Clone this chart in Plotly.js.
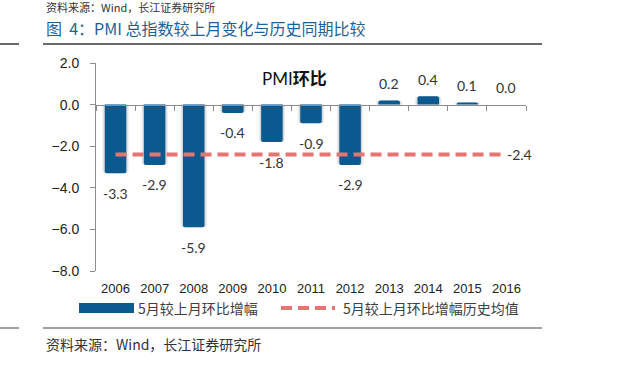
<!DOCTYPE html>
<html>
<head>
<meta charset="utf-8">
<script src="https://cdn.plot.ly/plotly-3.0.1.min.js"></script>
<style>
  html, body { margin: 0; padding: 0; background: #fff; }
  #chart { width: 627px; height: 374px; }
</style>
</head>
<body>
<div id="chart"></div>
<script>
// ---- data ----
const years = ['2006', '2007', '2008', '2009', '2010', '2011', '2012', '2013', '2014', '2015', '2016'];
const momChange = [-3.3, -2.9, -5.9, -0.4, -1.8, -0.9, -2.9, 0.2, 0.4, 0.1, 0.0];
const histMean = [-2.4, -2.4, -2.4, -2.4, -2.4, -2.4, -2.4, -2.4, -2.4, -2.4, -2.4];
const yTickVals = [2, 0, -2, -4, -6, -8];
const seriesNames = ['5月较上月环比增幅', '5月较上月环比增幅历史均值'];
const titleText = '图&nbsp;&nbsp;4：PMI 总指数较上月变化与历史同期比较';
const sourceText = '资料来源：Wind，长江证券研究所';
const innerTitle = 'PMI<b>环比</b>';

// ---- layout geometry (pixels) ----
const W = 627, H = 374;
const L = 96, T = 63, PW = 430, PH = 208;
const px = x => (x - L) / PW;
const py = y => (T + PH - y) / PH;

const barColor = '#0A5A8F';
const lineColor = '#E47573';
const axisColor = '#8C8C8C';
const cjk = '"Noto Sans CJK SC", "Liberation Sans", sans-serif';
const latin = '"Liberation Sans", Arial, sans-serif';
const labelFont = 'Lato, "DejaVu Sans", sans-serif';

const traces = [
  { type: 'bar', x: years, y: momChange, width: 0.68, marker: { color: 'rgba(0,0,0,0.07)', cornerradius: 3 },
    hoverinfo: 'skip', showlegend: false },
  { type: 'bar', x: years, y: momChange, width: 0.61, marker: { color: 'rgba(0,0,0,0.10)', cornerradius: 3 },
    hoverinfo: 'skip', showlegend: false },
  { type: 'bar', x: years, y: momChange, width: 0.55, name: seriesNames[0],
    marker: { color: barColor, cornerradius: 2 }, showlegend: false },
  { type: 'scatter', mode: 'lines', x: years, y: histMean, name: seriesNames[1],
    line: { color: lineColor, width: 4, dash: '11px,6px' }, showlegend: false },
  // carrier for the zero-line category axis
  { type: 'scatter', mode: 'markers', x: years, y: histMean, xaxis: 'x2',
    marker: { opacity: 0 }, hoverinfo: 'skip', showlegend: false }
];

const annotations = [];
momChange.forEach((v, i) => {
  annotations.push({
    x: i, y: v, xref: 'x', yref: 'y', text: v.toFixed(1), showarrow: false,
    yanchor: 'middle', yshift: v >= 0 ? 17 : -20,
    font: { family: labelFont, size: 14, color: '#333' }
  });
});
annotations.push({
  x: years.length - 1, y: histMean[histMean.length - 1], xref: 'x', yref: 'y',
  text: histMean[histMean.length - 1].toFixed(1), showarrow: false,
  xanchor: 'left', yanchor: 'middle', xshift: -1,
  font: { family: labelFont, size: 14, color: '#333' }
});
// inner title
annotations.push({
  x: px(294), y: py(79), xref: 'paper', yref: 'paper', text: innerTitle, showarrow: false,
  xanchor: 'center', yanchor: 'middle',
  font: { family: 'Lato, "Noto Sans CJK SC", sans-serif', size: 17, color: '#111' }
});
// figure title
annotations.push({
  x: px(44), y: py(28), xref: 'paper', yref: 'paper', text: titleText, showarrow: false,
  xanchor: 'left', yanchor: 'middle',
  font: { family: cjk, size: 16, color: '#1F5F98' }
});
// source text of the block above (top edge)
annotations.push({
  x: px(44), y: py(7), xref: 'paper', yref: 'paper', text: sourceText, showarrow: false,
  xanchor: 'left', yanchor: 'middle',
  font: { family: cjk, size: 11, color: '#333' }
});
// source text bottom
annotations.push({
  x: px(44), y: py(344), xref: 'paper', yref: 'paper', text: sourceText, showarrow: false,
  xanchor: 'left', yanchor: 'middle',
  font: { family: cjk, size: 14, color: '#333' }
});
// legend labels
annotations.push({
  x: px(136), y: py(308), xref: 'paper', yref: 'paper', text: seriesNames[0], showarrow: false,
  xanchor: 'left', yanchor: 'middle', font: { family: cjk, size: 14, color: '#404040' }
});
annotations.push({
  x: px(341), y: py(308), xref: 'paper', yref: 'paper', text: seriesNames[1], showarrow: false,
  xanchor: 'left', yanchor: 'middle', font: { family: cjk, size: 14, color: '#404040' }
});

const shapes = [
  // title rule
  { type: 'line', xref: 'paper', yref: 'paper', x0: px(43), x1: px(542), y0: py(44), y1: py(44),
    line: { color: '#3A3A3A', width: 1.5 } },
  { type: 'line', xref: 'paper', yref: 'paper', x0: px(0), x1: px(19), y0: py(44), y1: py(44),
    line: { color: '#3A3A3A', width: 1.5 } },
  // bottom rule
  { type: 'line', xref: 'paper', yref: 'paper', x0: px(43), x1: px(542), y0: py(328), y1: py(328),
    line: { color: '#808080', width: 1.5 } },
  { type: 'line', xref: 'paper', yref: 'paper', x0: px(0), x1: px(19), y0: py(328), y1: py(328),
    line: { color: '#808080', width: 1.5 } },
  // legend swatches
  { type: 'rect', xref: 'paper', yref: 'paper', x0: px(79), x1: px(134), y0: py(313), y1: py(303),
    fillcolor: barColor, line: { width: 0 } },
  { type: 'line', xref: 'paper', yref: 'paper', x0: px(281), x1: px(335), y0: py(308), y1: py(308),
    line: { color: lineColor, width: 4, dash: '11px,6px' } }
];

const layout = {
  width: W, height: H,
  margin: { l: L, r: W - L - PW, t: T, b: H - T - PH, pad: 0 },
  paper_bgcolor: '#fff', plot_bgcolor: '#fff',
  barmode: 'overlay',
  showlegend: false,
  xaxis: {
    type: 'category', range: [-0.5, 10.5], showline: false, ticks: '', showgrid: false,
    zeroline: false, ticklabelstandoff: 8, tickfont: { family: latin, size: 13, color: '#222' }
  },
  xaxis2: {
    type: 'category', range: [-0.5, 10.5], overlaying: 'x', anchor: 'free', position: 0.8,
    showline: true, linecolor: axisColor, linewidth: 1, ticks: 'outside', tickson: 'boundaries',
    ticklen: 5, tickcolor: axisColor, showticklabels: false, showgrid: false, zeroline: false
  },
  yaxis: {
    range: [-8, 2], tickvals: yTickVals, tickformat: '.1f', showline: true, linecolor: axisColor,
    linewidth: 1, ticks: 'outside', ticklen: 5, tickcolor: axisColor, showgrid: false,
    zeroline: false, ticklabelstandoff: 8, tickfont: { family: latin, size: 14, color: '#222' }
  },
  annotations: annotations,
  shapes: shapes
};

Plotly.newPlot('chart', traces, layout, { displayModeBar: false, staticPlot: true });
</script>
</body>
</html>
